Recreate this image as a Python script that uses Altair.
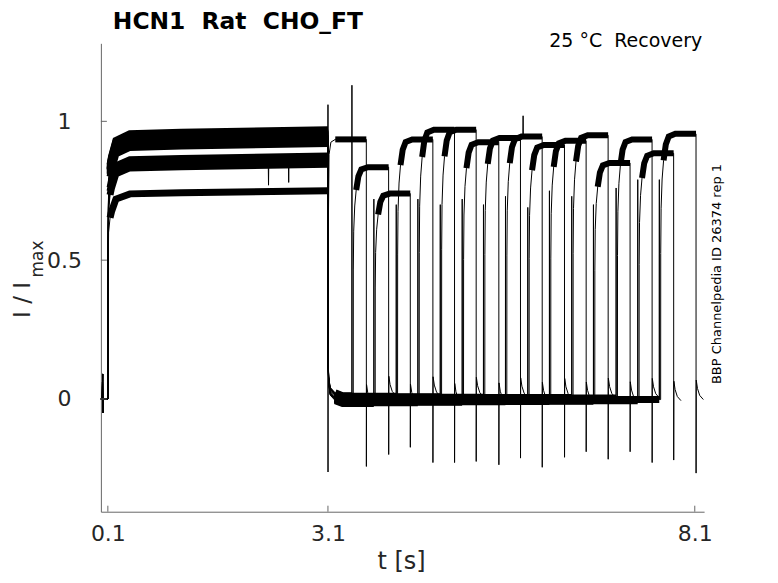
import altair as alt
import pandas as pd

# ---- axis ticks ----
x_ticks = [0.1, 3.1, 8.1]
y_ticks = [0, 0.5, 1]

# ---- per-sweep values (16 sweeps) ----
pre_level = [0.955, 0.845, 0.75, 0.95, 0.97, 0.965, 0.93, 0.945,
             0.95, 0.92, 0.935, 0.955, 0.86, 0.94, 0.875, 0.96]
test_level = [0.935, 0.835, 0.74, 0.935, 0.97, 0.97, 0.925, 0.94,
              0.945, 0.915, 0.93, 0.95, 0.85, 0.935, 0.885, 0.955]
test_start = [3.10, 3.427, 3.726, 4.031, 4.326, 4.631, 4.930, 5.220,
              5.520, 5.824, 6.119, 6.423, 6.719, 7.028, 7.323, 7.617]
test_end = [3.623, 3.927, 4.222, 4.530, 4.825, 5.120, 5.429, 5.724,
            6.020, 6.324, 6.619, 6.919, 7.218, 7.518, 7.812, 8.117]
start_spike = [1.06, 1.13, 0.72, 0.70, 0.72, 0.70, 0.72, 0.70,
               0.73, 0.69, 0.75, 0.73, 0.70, 0.76, 0.79, 0.79]
end_spike = [-0.243, -0.20, -0.174, -0.229, -0.229, -0.225, -0.237, -0.213,
             -0.246, -0.21, -0.19, -0.217, -0.19, -0.229, -0.22, -0.267]
base_level = [-0.018, 0.012, -0.016, 0.01, -0.014, 0.008, -0.012, 0.006,
              -0.01, 0.004, -0.009, 0.005, -0.008, 0.004, -0.006, -0.002]

# ---- shapes ----
lead_t = [0.005, 0.025, 0.028, 0.031, 0.034, 0.1]
lead_y = [0.0, 0.0, 0.09, -0.05, 0.0, 0.0]
pre_rise_dt = [0.003, 0.01, 0.03, 0.05, 0.11, 0.3, 1.0, 3.0]
pre_rise_f = [0.5, 0.8, 0.87, 0.9, 0.96, 0.985, 0.99, 1.0]
deact_dt = [0.0008, 0.01, 0.03, 0.1, 0.2]
deact_y = [0.15, 0.07, 0.03, 0.01, 0.0]
rise_delay = 0.018
test_rise_dt = [0.001, 0.006, 0.02, 0.04, 0.07, 0.11, 0.2]
test_rise_f = [0.55, 0.72, 0.83, 0.9, 0.96, 0.99, 1.0]
tail_dt = [0.003, 0.02, 0.05, 0.1]
tail_y = [0.07, 0.04, 0.015, 0.0]
extra_spikes = {1: [(2.29, 0.77), (2.565, 0.78)], 8: [(5.76, 1.02)]}

thin_rows, thick_rows = [], []
for k in range(16):
    L, T, b = pre_level[k], test_level[k], base_level[k]
    s, e = test_start[k], test_end[k]
    pts = []  # (t, y, seg or None)
    for t, y in zip(lead_t, lead_y):
        pts.append((t, y, None))
    pts.append((0.1, 0.0, None))
    for dt, f in zip(pre_rise_dt, pre_rise_f):
        pts.append((0.1 + dt, f * L, "pre" if dt >= 0.03 else None))
    if k == 0:
        for p in [(3.1005, start_spike[0]), (3.101, end_spike[0] - 0.02),
                  (3.103, 0.55), (3.115, 0.88), (3.14, 0.925)]:
            pts.append((p[0], p[1], None))
        pts.append((3.2, T, "test"))
        pts.append((e, T, "test"))
    else:
        for dt, y in zip(deact_dt, deact_y):
            pts.append((3.1 + dt, b + y, "base" if dt >= 0.1 else None))
        pts.append((s - 0.001, b, "base"))
        pts.append((s, start_spike[k], None))
        pts.append((s + 0.001, b, None))
        r = s + rise_delay
        pts.append((r, b, None))
        for dt, f in zip(test_rise_dt, test_rise_f):
            pts.append((r + dt, b + f * (T - b), "test" if dt >= 0.04 else None))
        pts.append((e, T, "test"))
    pts.append((e + 0.001, end_spike[k], None))
    for dt, y in zip(tail_dt, tail_y):
        pts.append((e + dt, b + y, None))

    # thin trace including occasional spikes
    thin = [(t, y) for t, y, _ in pts]
    for (ts, ysp) in extra_spikes.get(k, []):
        thin += [(ts - 0.003, None), (ts, ysp), (ts + 0.003, None)]
    thin.sort(key=lambda p: p[0])
    for i, (t, y) in enumerate(thin):
        if y is None:
            j = i - 1
            while thin[j][1] is None or thin[j][1] > 1.0 or thin[j][1] < 0.8:
                j -= 1
            thin[i] = (t, thin[j][1])
    for i, (t, y) in enumerate(thin):
        thin_rows.append({"sweep": k, "i": i, "t": t, "y": y})
    for i, (t, y, seg) in enumerate(pts):
        if seg is not None:
            thick_rows.append({"seg": f"{k}-{seg}", "kind": seg, "i": i, "t": t, "y": y})

thin_df = pd.DataFrame(thin_rows)
thick_df = pd.DataFrame(thick_rows)

W, H = 604, 469
xs = alt.Scale(domain=[0.005, 8.227], nice=False, zero=False)
ys = alt.Scale(domain=[-0.406, 1.281], nice=False, zero=False)

x_axis = alt.Axis(values=x_ticks, format="~g", title=None, grid=False, ticks=False,
                  tickSize=0, labelPadding=12, labelFontSize=22, labelFont="DejaVu Sans",
                  labelColor="#262626", domainColor="#666666", domainWidth=1)
y_axis = alt.Axis(values=y_ticks, format="~g", title=None, grid=False, ticks=False,
                  tickSize=0, labelPadding=37, labelAlign="center", labelBaseline="middle",
                  labelFontSize=22, labelFont="DejaVu Sans", labelColor="#262626",
                  domainColor="#666666", domainWidth=1)

thin_layer = alt.Chart(thin_df).mark_line(color="black", strokeWidth=1).encode(
    x=alt.X("t:Q", scale=xs, axis=x_axis),
    y=alt.Y("y:Q", scale=ys, axis=y_axis),
    detail="sweep:N",
    order="i:Q",
)
thick_pre = alt.Chart(thick_df).transform_filter("datum.kind != 'test'").mark_line(
    color="black", strokeWidth=7).encode(
    x=alt.X("t:Q", scale=xs),
    y=alt.Y("y:Q", scale=ys),
    detail="seg:N",
    order="i:Q",
)
thick_test = alt.Chart(thick_df).transform_filter("datum.kind == 'test'").mark_line(
    color="black", strokeWidth=6).encode(
    x=alt.X("t:Q", scale=xs),
    y=alt.Y("y:Q", scale=ys),
    detail="seg:N",
    order="i:Q",
)

xt_df = pd.DataFrame({"v": x_ticks})
yt_df = pd.DataFrame({"v": y_ticks})
xtick = alt.Chart(xt_df).mark_rule(color="#666666", strokeWidth=1).encode(
    x=alt.X("v:Q", scale=xs), y=alt.value(H), y2=alt.value(H - 6))
ytick = alt.Chart(yt_df).mark_rule(color="#666666", strokeWidth=1).encode(
    y=alt.Y("v:Q", scale=ys), x=alt.value(0), x2=alt.value(6))


def label(text, x, y, size, angle=0, align="center", baseline="middle", weight="normal",
          color="black"):
    return alt.Chart(pd.DataFrame({"txt": [text]})).mark_text(
        fontSize=size, font="DejaVu Sans", angle=angle, align=align, baseline=baseline,
        fontWeight=weight, color=color,
    ).encode(text="txt:N", x=alt.value(x), y=alt.value(y))


nb = "\u00a0"
texts = [
    label(f"HCN1{nb}{nb}Rat{nb}{nb}CHO_FT", 12, -14, 23.4, align="left",
          baseline="alphabetic", weight="bold"),
    label(f"25{nb}°C{nb}{nb}Recovery", 449, 4, 19, align="left", baseline="alphabetic"),
    label("BBP Channelpedia ID 26374 rep 1", 617, 231, 13, angle=270),
    label(f"I{nb}/{nb}I", -78, 257, 23, angle=270, color="#262626"),
    label("max", -63, 216, 17, angle=270, color="#262626"),
    label("t [s]", 301, 519, 24, color="#262626"),
]

chart = alt.layer(thin_layer, thick_pre, thick_test, xtick, ytick, *texts).properties(
    width=W, height=H,
    padding={"left": 93, "top": 35, "right": 66, "bottom": 62},
    autosize=alt.AutoSizeParams(type="none"),
).configure_view(stroke=None)

chart.save("out.html", embed_options={"renderer": "svg", "actions": False})
